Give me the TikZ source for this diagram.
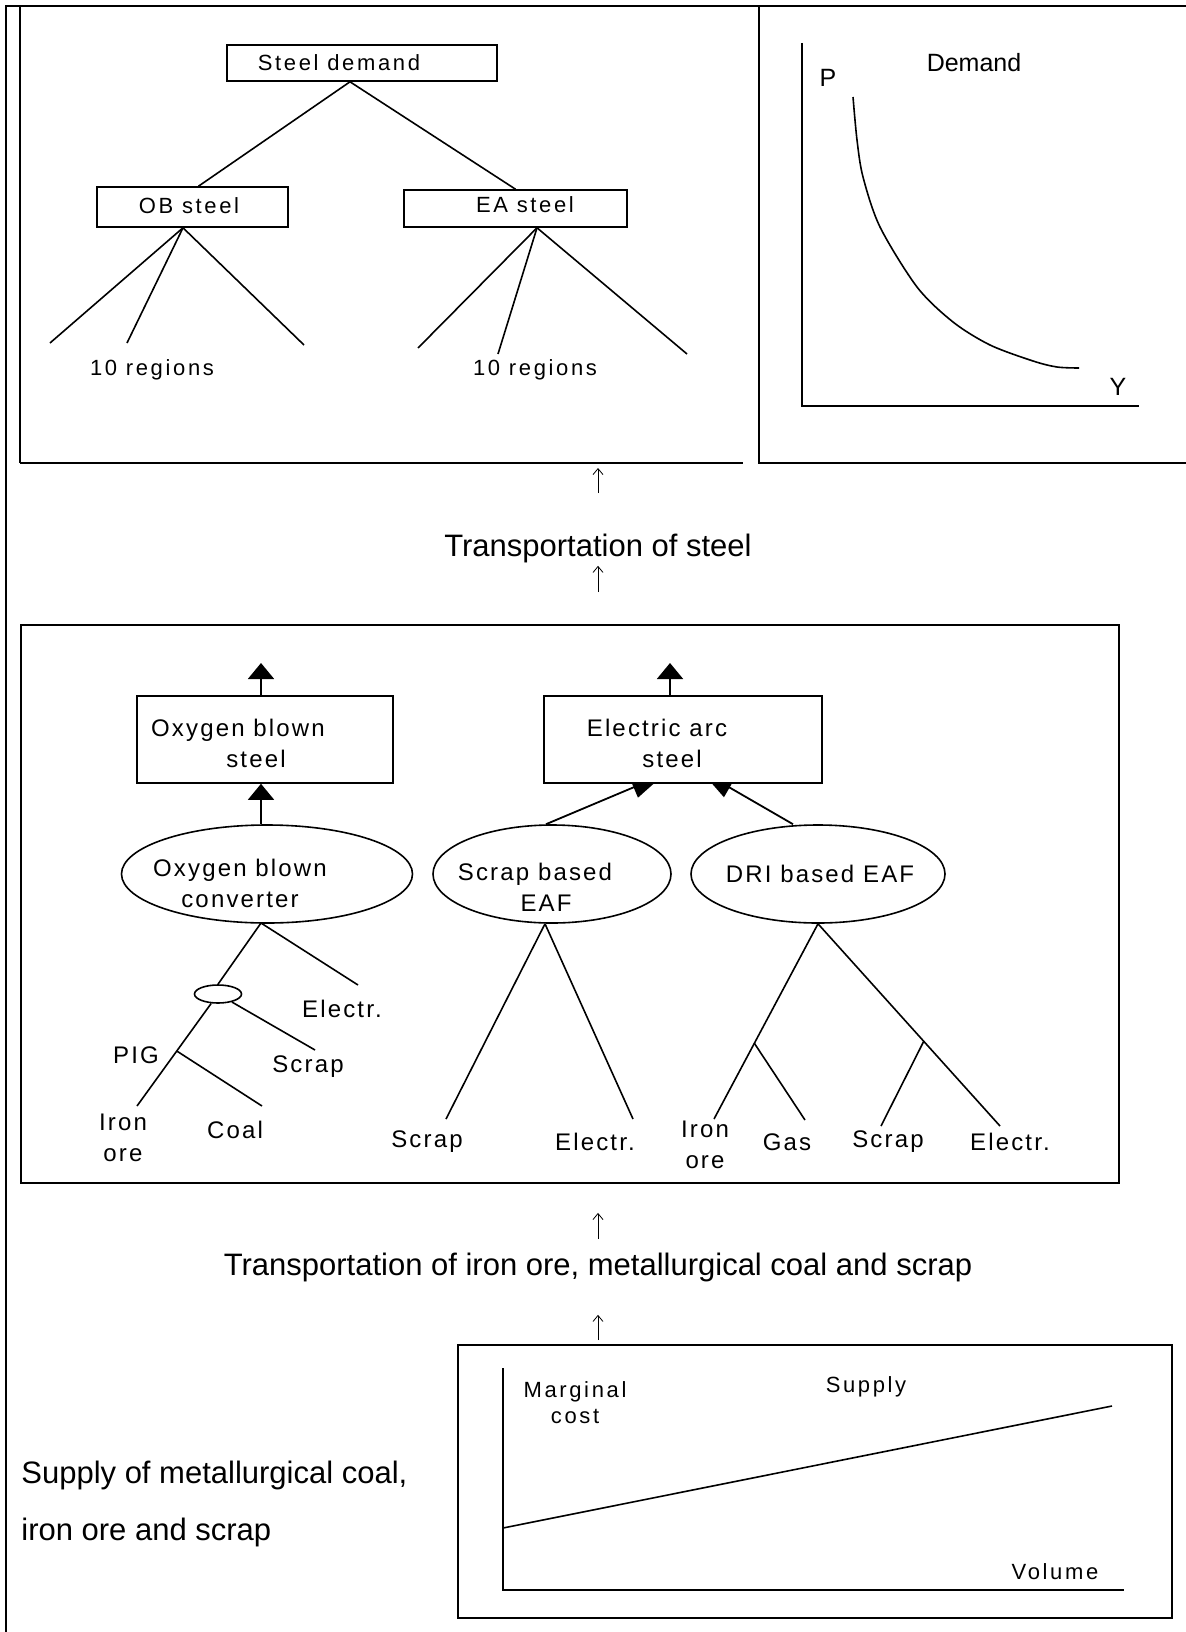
\documentclass[tikz,border=0pt]{standalone}
\usepackage{fontspec}
\setmainfont{Liberation Sans}
\newfontfamily\trackfont[LetterSpace=12]{Liberation Sans}
\newfontfamily\trackfontmid[LetterSpace=9]{Liberation Sans}
\usepackage{tikz}
\usetikzlibrary{arrows.meta,positioning,calc,shapes.geometric,backgrounds}
\tikzset{
  frame/.style={line width=1.2pt},
  boxline/.style={line width=0.9pt},
  unit/.style={draw, line width=0.8pt, fill=white, inner sep=0pt},
  proc/.style={ellipse, draw, line width=0.8pt, inner sep=0pt},
  twig/.style={line width=0.8pt},
  lab/.style={font=\trackfont\fontsize{11}{13}\selectfont, inner sep=0pt, align=center},
  midlab/.style={font=\trackfontmid\fontsize{12}{15.5}\selectfont, inner sep=0pt, align=center},
  big/.style={font=\fontsize{15.5}{18}\selectfont, inner sep=0pt},
  axlab/.style={font=\fontsize{12.5}{15}\selectfont, inner sep=0pt},
  flow/.style={-{Triangle[width=13pt,length=8pt]}, line width=0.9pt},
  flowin/.style={-{Triangle[width=11pt,length=16.5pt]}, line width=0.9pt},
  uparr/.style={-{Straight Barb[length=3pt,width=5pt]}, line width=0.4pt}
}

\begin{document}
\begin{tikzpicture}[x=0.5pt, y=-0.5pt]
\useasboundingbox (0,0) rectangle (1186,1632);

% outer frame and the two upper panels
\draw[frame] (6,1632) -- (6,6) -- (1186,6);
\draw[boxline] (20,6) -- (20,463);
\draw[frame] (20,463) -- (743,463);
\draw[frame] (759,6) -- (759,463) -- (1186,463);

% demand tree
\node[unit, minimum width=135pt, minimum height=18pt] (sd) at (362,63) {};
\node[lab] (sdt) at (339,63) {Steel demand};
\node[unit, minimum width=95.5pt, minimum height=20pt] (ob) at (192.5,207) {};
\node[lab] (obt) at (189,206) {OB steel};
\node[unit, minimum width=111.5pt, minimum height=18.5pt] (ea) at (515.5,208.5) {};
\node[lab] (eat) at (525,205) {EA steel};
\draw[twig] ([xshift=-6pt]sd.south) -- ([xshift=3pt]ob.north);
\draw[twig] ([xshift=-6pt]sd.south) -- (ea.north);

\coordinate (ob1) at (50,343);
\coordinate (ob2) at (127,343);
\coordinate (ob3) at (304,345);
\coordinate (ea1) at (418,348);
\coordinate (ea2) at (498,354);
\coordinate (ea3) at (687,354);
\foreach \r in {ob1,ob2,ob3}
  \draw[twig] ([xshift=-4.75pt]ob.south) -- (\r);
\foreach \r in {ea1,ea2,ea3}
  \draw[twig] ([xshift=10.75pt]ea.south) -- (\r);
\node[lab] (obreg) at (152,370) {10 regions};
\node[lab] (eareg) at (535,370) {10 regions};

% demand curve
\draw[twig] (802,43) -- (802,406) -- (1139,406);
\draw[twig] plot[smooth] coordinates {(853,97) (857,140) (863,177) (880,227)
  (917,287) (953,322) (990,345) (1033,361) (1057,367) (1079,368)};
\node[axlab] (pl) at (828,78) {P};
\node[axlab] (dl) at (974,63) {Demand};
\node[axlab] (yl) at (1118,387) {Y};

% transport of steel
\node[big] (ts) at (598,548) {Transportation of steel};
\node[draw, boxline, minimum width=549pt, minimum height=279pt, inner sep=0pt] (mid) at (570,904) {};
\draw[uparr, shorten <=16pt, shorten >=1.5pt] (ts.north |- mid.north) -- (ts.south);
\draw[uparr, shorten <=20pt, shorten >=2.5pt] (ts.north) -- (ts.north |- 0,463);

% steel making routes
\node[unit, minimum width=128pt, minimum height=43.5pt] (obs) at (265,739.5) {};
\node[midlab] (obst) at (238,743) {Oxygen blown\\\hspace*{18pt}steel};
\node[unit, minimum width=139pt, minimum height=43.5pt] (eas) at (683,739.5) {};
\node[midlab] (east) at (657,743) {Electric arc\\\hspace*{15pt}steel};
\coordinate (obsout) at (261,663);
\coordinate (easout) at (670,663);
\draw[flow] ([xshift=-2pt]obs.north) -- (obsout);
\draw[flow] ([xshift=-6.5pt]eas.north) -- (easout);

\node[proc, minimum width=145.5pt, minimum height=49pt] (obc) at (267,874) {};
\node[midlab] (obct) at (240,883) {Oxygen blown\\converter};
\node[proc, minimum width=119pt, minimum height=49pt] (sbe) at (552,874) {};
\node[midlab] (sbet) at (535,887) {Scrap based\\\hspace*{11pt}EAF};
\node[proc, minimum width=127pt, minimum height=49pt] (dri) at (818,874) {};
\node[midlab] (drit) at (820,874) {DRI based EAF};

\draw[flow] ([xshift=-3pt]obc.north) -- ([xshift=-2pt]obs.south);
\coordinate (eastipL) at (664,774.5);
\coordinate (eastipR) at (701,771);
\begin{scope}[on background layer]
  \draw[flowin] ([xshift=-3pt]sbe.north) -- (eastipL);
  \draw[flowin] ([xshift=-12.5pt]dri.north) -- (eastipR);
\end{scope}

% oxygen blown inputs
\node[proc, minimum width=23.5pt, minimum height=9pt] (pig) at (218,994) {};
\coordinate (obcfoot) at (261,923);
\coordinate (obcel) at (358,985);
\coordinate (obiron) at (137,1106);
\coordinate (obscrap) at (315,1050);
\coordinate (obcoal) at (262,1106);
\coordinate (pigj) at ($(pig.center)!0.509!(obiron)$);
\draw[twig] (obcfoot) -- (pig.north);
\draw[twig] (obcfoot) -- (obcel);
\draw[twig] (pig) -- (obiron);
\draw[twig] (pig) -- (obscrap);
\draw[twig] (pigj) -- (obcoal);
\node[midlab] (obelt) at (342,1009) {Electr.};
\node[midlab] (pigt) at (136,1055) {PIG};
\node[midlab] (obscrapt) at (308,1067) {Scrap};
\node[midlab] (obiront) at (123,1138) {Iron\\ore};
\node[midlab] (obcoalt) at (235,1130) {Coal};

% scrap based inputs
\coordinate (sbscrap) at (446,1119);
\coordinate (sbel) at (633,1119);
\draw[twig] ([xshift=-3.5pt]sbe.south) -- (sbscrap);
\draw[twig] ([xshift=-3.5pt]sbe.south) -- (sbel);
\node[midlab] (sbscrapt) at (427,1142) {Scrap};
\node[midlab] (sbelt) at (595,1142) {Electr.};

% DRI based inputs
\coordinate (driiron) at (714,1119);
\coordinate (drigas) at (805,1120);
\coordinate (driscrap) at (881,1126);
\coordinate (driel) at (1000,1126);
\coordinate (drij1) at ($(dri.south)!0.612!(driiron)$);
\coordinate (drij2) at ($(dri.south)!0.581!(driel)$);
\draw[twig] (dri.south) -- (driiron);
\draw[twig] (dri.south) -- (driel);
\draw[twig] (drij1) -- (drigas);
\draw[twig] (drij2) -- (driscrap);
\node[midlab] (driiront) at (705,1145) {Iron\\ore};
\node[midlab] (drigast) at (787,1142) {Gas};
\node[midlab] (driscrapt) at (888,1142) {Scrap};
\node[midlab] (drielt) at (1010,1142) {Electr.};

% transport of raw materials and supply
\node[big] (ti) at (598,1267) {Transportation of iron ore, metallurgical coal and scrap};
\node[draw, boxline, minimum width=357pt, minimum height=136.5pt, inner sep=0pt] (sup) at (815,1481.5) {};
\draw[uparr, shorten <=6.5pt, shorten >=14.5pt] (ti.north) -- (ti.north |- mid.south);
\draw[uparr, shorten <=2pt, shorten >=16.5pt] (ti.south |- sup.north) -- (ti.south);
\node[big, anchor=west, align=left, font=\fontsize{15.5}{28.5}\selectfont] (supt) at (21,1504)
  {Supply of metallurgical coal,\\iron ore and scrap};

\draw[twig] (503,1368) -- (503,1590) -- (1124,1590);
\draw[twig] (503,1528) -- (1112,1406);
\node[lab] (mcl) at (575,1403) {Marginal\\cost};
\node[lab] (sul) at (866,1387) {Supply};
\node[lab] (vol) at (1055,1572) {Volume};
\end{tikzpicture}
\end{document}
